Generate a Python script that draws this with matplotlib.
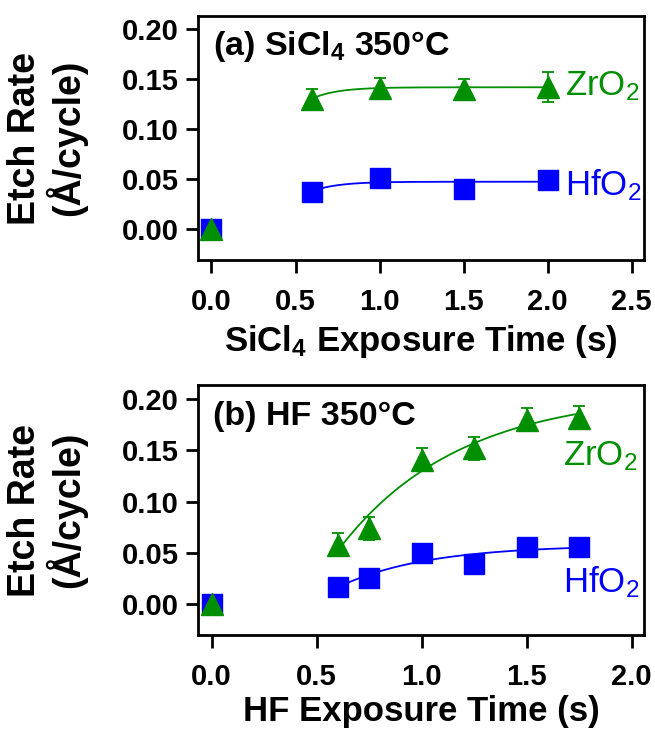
import numpy as np
import matplotlib
matplotlib.use("Agg")
import matplotlib.pyplot as plt
from matplotlib.markers import MarkerStyle

plt.rcParams["font.family"] = ["Liberation Sans", "DejaVu Sans"]
plt.rcParams["mathtext.fontset"] = "custom"
plt.rcParams["mathtext.rm"] = "Liberation Sans"
plt.rcParams["mathtext.bf"] = "Liberation Sans:bold"
plt.rcParams["mathtext.it"] = "Liberation Sans:italic"

GREEN = "#008f00"
BLUE = "#0000ff"

# (a) SiCl4 exposure series
sicl4_time = [0.6, 1.0, 1.5, 2.0]
sicl4_zro2 = [0.130, 0.141, 0.140, 0.142]
sicl4_zro2_err = [0.010, 0.010, 0.010, 0.015]
sicl4_hfo2 = [0.037, 0.051, 0.040, 0.049]

# (b) HF exposure series
hf_time = [0.6, 0.75, 1.0, 1.25, 1.5, 1.75]
hf_zro2 = [0.058, 0.074, 0.141, 0.152, 0.180, 0.182]
hf_zro2_err = [0.011, 0.011, 0.011, 0.011, 0.011, 0.011]
hf_hfo2 = [0.017, 0.026, 0.050, 0.039, 0.056, 0.056]

# zero-exposure reference point shown in both panels
zero_time = [0.0]
zero_rate = [0.0]


def fit_saturation(x, y):
    """Least-squares fit of y = a - b*exp(-x/tau), tau found on a grid."""
    x = np.asarray(x, float)
    y = np.asarray(y, float)
    best = None
    for tau in np.linspace(0.15, 3.0, 400):
        A = np.column_stack([np.ones_like(x), -np.exp(-x / tau)])
        coef, *_ = np.linalg.lstsq(A, y, rcond=None)
        res = np.sum((A @ coef - y) ** 2)
        if best is None or res < best[0]:
            best = (res, coef, tau)
    _, (a, b), tau = best
    xs = np.linspace(x.min(), x.max(), 200)
    return xs, a - b * np.exp(-xs / tau)


def style_axes(ax):
    for sp in ax.spines.values():
        sp.set_linewidth(2.0)
    ax.tick_params(direction="out", length=9, width=2.0, labelsize=21,
                   pad=5)
    ax.tick_params(axis="x", pad=11)
    for lab in ax.get_xticklabels() + ax.get_yticklabels():
        lab.set_fontweight("bold")


def draw_panel(ax, t, zr, zr_err, hf):
    sq = MarkerStyle("s", joinstyle="round")
    xs, ys = fit_saturation(t, hf)
    ax.plot(xs, ys, color=BLUE, lw=1.3, zorder=2)
    ax.plot(t, hf, ls="none", marker=sq, ms=14.5, mfc=BLUE, mec=BLUE,
            mew=1.0, zorder=3)
    ax.plot(zero_time, zero_rate, ls="none", marker=sq, ms=14.5, mfc=BLUE,
            mec=BLUE, mew=1.0, zorder=3, clip_on=False)

    xs, ys = fit_saturation(t, zr)
    ax.plot(xs, ys, color=GREEN, lw=1.3, zorder=2)
    ax.errorbar(t, zr, yerr=zr_err, fmt="^", ms=16.5, color=GREEN, mec=GREEN,
                ecolor=GREEN, elinewidth=1.3, capsize=4, capthick=1.3,
                zorder=4)
    ax.plot(zero_time, zero_rate, ls="none", marker="^", ms=16.5, mfc=GREEN,
            mec=GREEN, zorder=5, clip_on=False)


fig = plt.figure(figsize=(6.55, 7.32), dpi=100)
ax1 = fig.add_axes([0.3023, 0.6448, 0.6809, 0.3333])
ax2 = fig.add_axes([0.3023, 0.1325, 0.6809, 0.3415])

draw_panel(ax1, sicl4_time, sicl4_zro2, sicl4_zro2_err, sicl4_hfo2)
draw_panel(ax2, hf_time, hf_zro2, hf_zro2_err, hf_hfo2)

ax1.set_xlim(-0.08, 2.573)
ax1.set_ylim(-0.0315, 0.2125)
ax1.set_xticks([0.0, 0.5, 1.0, 1.5, 2.0, 2.5])
ax1.set_xticklabels(["0.0", "0.5", "1.0", "1.5", "2.0", "2.5"])

ax2.set_xlim(-0.065, 2.059)
ax2.set_ylim(-0.030, 0.2137)
ax2.set_xticks([0.0, 0.5, 1.0, 1.5, 2.0])
ax2.set_xticklabels(["0.0", "0.5", "1.0", "1.5", "2.0"])

for ax in (ax1, ax2):
    ax.set_yticks([0.00, 0.05, 0.10, 0.15, 0.20])
    ax.set_yticklabels(["0.00", "0.05", "0.10", "0.15", "0.20"])
    style_axes(ax)
    ax.set_ylabel("Etch Rate\n(Å/cycle)", fontsize=27, fontweight="bold",
                  labelpad=25, linespacing=1.05)

ax1.set_xlabel(r"SiCl$_\mathbf{4}$ Exposure Time (s)", fontsize=25,
               fontweight="bold", labelpad=5)
ax2.set_xlabel("HF Exposure Time (s)", fontsize=25, fontweight="bold",
               labelpad=3)

ax1.text(0.034, 0.84, r"(a) SiCl$_\mathbf{4}$ 350°C", transform=ax1.transAxes,
         fontsize=24.5, fontweight="bold", va="baseline")
ax2.text(0.034, 0.84, "(b) HF 350°C", transform=ax2.transAxes,
         fontsize=24.5, fontweight="bold", va="baseline")

ax1.text(0.823, 0.676, r"ZrO$_2$", transform=ax1.transAxes, fontsize=25,
         color=GREEN, va="baseline")
ax1.text(0.823, 0.266, r"HfO$_2$", transform=ax1.transAxes, fontsize=25,
         color=BLUE, va="baseline")
ax2.text(0.818, 0.68, r"ZrO$_2$", transform=ax2.transAxes, fontsize=25,
         color=GREEN, va="baseline")
ax2.text(0.818, 0.172, r"HfO$_2$", transform=ax2.transAxes, fontsize=25,
         color=BLUE, va="baseline")

fig.savefig("out.png", dpi=100)
